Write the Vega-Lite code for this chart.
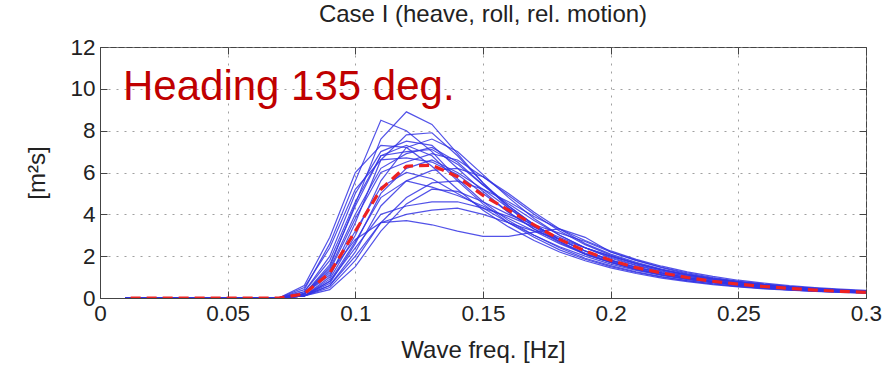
{
  "$schema": "https://vega.github.io/schema/vega-lite/v6.json",
  "width": 766,
  "height": 251,
  "autosize": "none",
  "padding": {"left": 100, "top": 47, "right": 20, "bottom": 68},
  "background": "white",
  "title": {"text": "Case I (heave, roll, rel. motion)", "font": "Liberation Sans", "fontSize": 24, "fontWeight": "normal", "color": "#222", "offset": 9, "anchor": "middle"},
  "config": {
    "view": {"stroke": "#444", "strokeWidth": 1},
    "axis": {"labelFont": "Liberation Sans", "labelFontSize": 22.5, "labelColor": "#222", "labelFlush": false, "labelOverlap": false, "titleFont": "Liberation Sans", "titleFontSize": 24, "titleFontWeight": "normal", "titleColor": "#222", "domainColor": "#444", "tickColor": "#444", "gridColor": "#888", "gridDash": [2, 6], "gridOpacity": 0.8}
  },
  "datasets": {
    "runs": [
      {"s":1,"f":0.01,"v":0},{"s":1,"f":0.07,"v":0},{"s":1,"f":0.08,"v":0.2},{"s":1,"f":0.09,"v":1.5},{"s":1,"f":0.10,"v":4.5},{"s":1,"f":0.11,"v":7.6},{"s":1,"f":0.12,"v":8.9},{"s":1,"f":0.13,"v":8.3},{"s":1,"f":0.14,"v":6.9},{"s":1,"f":0.15,"v":5.5},{"s":1,"f":0.16,"v":4.3},{"s":1,"f":0.17,"v":3.4},{"s":1,"f":0.18,"v":2.7},{"s":1,"f":0.19,"v":2.1},{"s":1,"f":0.20,"v":1.7},{"s":1,"f":0.21,"v":1.35},{"s":1,"f":0.22,"v":1.1},{"s":1,"f":0.23,"v":0.9},{"s":1,"f":0.24,"v":0.74},{"s":1,"f":0.25,"v":0.61},{"s":1,"f":0.26,"v":0.5},{"s":1,"f":0.27,"v":0.42},{"s":1,"f":0.28,"v":0.35},{"s":1,"f":0.29,"v":0.3},{"s":1,"f":0.30,"v":0.26},
      {"s":2,"f":0.01,"v":0},{"s":2,"f":0.07,"v":0},{"s":2,"f":0.08,"v":0.4},{"s":2,"f":0.09,"v":2.6},{"s":2,"f":0.10,"v":5.6},{"s":2,"f":0.11,"v":8.5},{"s":2,"f":0.12,"v":8.0},{"s":2,"f":0.13,"v":7.0},{"s":2,"f":0.14,"v":5.7},{"s":2,"f":0.15,"v":4.6},{"s":2,"f":0.16,"v":3.7},{"s":2,"f":0.17,"v":3.0},{"s":2,"f":0.18,"v":2.4},{"s":2,"f":0.19,"v":1.9},{"s":2,"f":0.20,"v":1.55},{"s":2,"f":0.21,"v":1.25},{"s":2,"f":0.22,"v":1.02},{"s":2,"f":0.23,"v":0.83},{"s":2,"f":0.24,"v":0.68},{"s":2,"f":0.25,"v":0.56},{"s":2,"f":0.26,"v":0.47},{"s":2,"f":0.27,"v":0.39},{"s":2,"f":0.28,"v":0.33},{"s":2,"f":0.29,"v":0.28},{"s":2,"f":0.30,"v":0.24},
      {"s":3,"f":0.01,"v":0},{"s":3,"f":0.07,"v":0},{"s":3,"f":0.08,"v":0.1},{"s":3,"f":0.09,"v":1.0},{"s":3,"f":0.10,"v":3.6},{"s":3,"f":0.11,"v":6.6},{"s":3,"f":0.12,"v":7.8},{"s":3,"f":0.13,"v":7.9},{"s":3,"f":0.14,"v":6.8},{"s":3,"f":0.15,"v":5.5},{"s":3,"f":0.16,"v":4.4},{"s":3,"f":0.17,"v":3.5},{"s":3,"f":0.18,"v":2.8},{"s":3,"f":0.19,"v":2.25},{"s":3,"f":0.20,"v":1.8},{"s":3,"f":0.21,"v":1.46},{"s":3,"f":0.22,"v":1.2},{"s":3,"f":0.23,"v":0.98},{"s":3,"f":0.24,"v":0.8},{"s":3,"f":0.25,"v":0.66},{"s":3,"f":0.26,"v":0.55},{"s":3,"f":0.27,"v":0.46},{"s":3,"f":0.28,"v":0.39},{"s":3,"f":0.29,"v":0.33},{"s":3,"f":0.30,"v":0.28},
      {"s":4,"f":0.01,"v":0},{"s":4,"f":0.07,"v":0},{"s":4,"f":0.08,"v":0.3},{"s":4,"f":0.09,"v":2.0},{"s":4,"f":0.10,"v":5.0},{"s":4,"f":0.11,"v":7.0},{"s":4,"f":0.12,"v":7.5},{"s":4,"f":0.13,"v":7.3},{"s":4,"f":0.14,"v":6.2},{"s":4,"f":0.15,"v":5.1},{"s":4,"f":0.16,"v":4.1},{"s":4,"f":0.17,"v":3.3},{"s":4,"f":0.18,"v":2.65},{"s":4,"f":0.19,"v":2.1},{"s":4,"f":0.20,"v":1.7},{"s":4,"f":0.21,"v":1.38},{"s":4,"f":0.22,"v":1.12},{"s":4,"f":0.23,"v":0.92},{"s":4,"f":0.24,"v":0.75},{"s":4,"f":0.25,"v":0.62},{"s":4,"f":0.26,"v":0.52},{"s":4,"f":0.27,"v":0.43},{"s":4,"f":0.28,"v":0.36},{"s":4,"f":0.29,"v":0.31},{"s":4,"f":0.30,"v":0.27},
      {"s":5,"f":0.01,"v":0},{"s":5,"f":0.07,"v":0},{"s":5,"f":0.08,"v":0.2},{"s":5,"f":0.09,"v":1.6},{"s":5,"f":0.10,"v":4.4},{"s":5,"f":0.11,"v":6.8},{"s":5,"f":0.12,"v":7.0},{"s":5,"f":0.13,"v":7.1},{"s":5,"f":0.14,"v":6.4},{"s":5,"f":0.15,"v":5.4},{"s":5,"f":0.16,"v":4.4},{"s":5,"f":0.17,"v":3.5},{"s":5,"f":0.18,"v":2.8},{"s":5,"f":0.19,"v":2.25},{"s":5,"f":0.20,"v":1.8},{"s":5,"f":0.21,"v":1.47},{"s":5,"f":0.22,"v":1.2},{"s":5,"f":0.23,"v":0.98},{"s":5,"f":0.24,"v":0.8},{"s":5,"f":0.25,"v":0.67},{"s":5,"f":0.26,"v":0.56},{"s":5,"f":0.27,"v":0.47},{"s":5,"f":0.28,"v":0.4},{"s":5,"f":0.29,"v":0.34},{"s":5,"f":0.30,"v":0.29},
      {"s":6,"f":0.01,"v":0},{"s":6,"f":0.07,"v":0},{"s":6,"f":0.08,"v":0.5},{"s":6,"f":0.09,"v":2.4},{"s":6,"f":0.10,"v":5.2},{"s":6,"f":0.11,"v":6.6},{"s":6,"f":0.12,"v":6.7},{"s":6,"f":0.13,"v":6.5},{"s":6,"f":0.14,"v":5.9},{"s":6,"f":0.15,"v":5.0},{"s":6,"f":0.16,"v":4.1},{"s":6,"f":0.17,"v":3.3},{"s":6,"f":0.18,"v":2.7},{"s":6,"f":0.19,"v":2.15},{"s":6,"f":0.20,"v":1.75},{"s":6,"f":0.21,"v":1.42},{"s":6,"f":0.22,"v":1.16},{"s":6,"f":0.23,"v":0.95},{"s":6,"f":0.24,"v":0.78},{"s":6,"f":0.25,"v":0.65},{"s":6,"f":0.26,"v":0.54},{"s":6,"f":0.27,"v":0.45},{"s":6,"f":0.28,"v":0.38},{"s":6,"f":0.29,"v":0.32},{"s":6,"f":0.30,"v":0.28},
      {"s":7,"f":0.01,"v":0},{"s":7,"f":0.07,"v":0},{"s":7,"f":0.08,"v":0.1},{"s":7,"f":0.09,"v":0.9},{"s":7,"f":0.10,"v":3.0},{"s":7,"f":0.11,"v":5.6},{"s":7,"f":0.12,"v":7.2},{"s":7,"f":0.13,"v":7.6},{"s":7,"f":0.14,"v":7.0},{"s":7,"f":0.15,"v":5.9},{"s":7,"f":0.16,"v":4.8},{"s":7,"f":0.17,"v":3.8},{"s":7,"f":0.18,"v":3.0},{"s":7,"f":0.19,"v":2.4},{"s":7,"f":0.20,"v":1.9},{"s":7,"f":0.21,"v":1.55},{"s":7,"f":0.22,"v":1.26},{"s":7,"f":0.23,"v":1.03},{"s":7,"f":0.24,"v":0.85},{"s":7,"f":0.25,"v":0.7},{"s":7,"f":0.26,"v":0.58},{"s":7,"f":0.27,"v":0.49},{"s":7,"f":0.28,"v":0.41},{"s":7,"f":0.29,"v":0.35},{"s":7,"f":0.30,"v":0.3},
      {"s":8,"f":0.01,"v":0},{"s":8,"f":0.07,"v":0},{"s":8,"f":0.08,"v":0.2},{"s":8,"f":0.09,"v":1.3},{"s":8,"f":0.10,"v":3.8},{"s":8,"f":0.11,"v":6.0},{"s":8,"f":0.12,"v":6.5},{"s":8,"f":0.13,"v":6.9},{"s":8,"f":0.14,"v":6.6},{"s":8,"f":0.15,"v":5.8},{"s":8,"f":0.16,"v":4.9},{"s":8,"f":0.17,"v":4.0},{"s":8,"f":0.18,"v":3.2},{"s":8,"f":0.19,"v":2.55},{"s":8,"f":0.20,"v":2.05},{"s":8,"f":0.21,"v":1.66},{"s":8,"f":0.22,"v":1.35},{"s":8,"f":0.23,"v":1.1},{"s":8,"f":0.24,"v":0.9},{"s":8,"f":0.25,"v":0.75},{"s":8,"f":0.26,"v":0.62},{"s":8,"f":0.27,"v":0.52},{"s":8,"f":0.28,"v":0.44},{"s":8,"f":0.29,"v":0.37},{"s":8,"f":0.30,"v":0.32},
      {"s":9,"f":0.01,"v":0},{"s":9,"f":0.07,"v":0},{"s":9,"f":0.08,"v":0.1},{"s":9,"f":0.09,"v":0.7},{"s":9,"f":0.10,"v":2.6},{"s":9,"f":0.11,"v":5.0},{"s":9,"f":0.12,"v":6.2},{"s":9,"f":0.13,"v":6.6},{"s":9,"f":0.14,"v":6.0},{"s":9,"f":0.15,"v":5.2},{"s":9,"f":0.16,"v":4.3},{"s":9,"f":0.17,"v":3.5},{"s":9,"f":0.18,"v":2.8},{"s":9,"f":0.19,"v":2.25},{"s":9,"f":0.20,"v":1.82},{"s":9,"f":0.21,"v":1.48},{"s":9,"f":0.22,"v":1.2},{"s":9,"f":0.23,"v":0.98},{"s":9,"f":0.24,"v":0.8},{"s":9,"f":0.25,"v":0.66},{"s":9,"f":0.26,"v":0.55},{"s":9,"f":0.27,"v":0.46},{"s":9,"f":0.28,"v":0.39},{"s":9,"f":0.29,"v":0.33},{"s":9,"f":0.30,"v":0.28},
      {"s":10,"f":0.01,"v":0},{"s":10,"f":0.07,"v":0},{"s":10,"f":0.08,"v":0.3},{"s":10,"f":0.09,"v":1.8},{"s":10,"f":0.10,"v":4.6},{"s":10,"f":0.11,"v":6.8},{"s":10,"f":0.12,"v":7.3},{"s":10,"f":0.13,"v":6.8},{"s":10,"f":0.14,"v":5.6},{"s":10,"f":0.15,"v":4.5},{"s":10,"f":0.16,"v":3.6},{"s":10,"f":0.17,"v":2.9},{"s":10,"f":0.18,"v":2.3},{"s":10,"f":0.19,"v":1.85},{"s":10,"f":0.20,"v":1.5},{"s":10,"f":0.21,"v":1.22},{"s":10,"f":0.22,"v":1.0},{"s":10,"f":0.23,"v":0.82},{"s":10,"f":0.24,"v":0.67},{"s":10,"f":0.25,"v":0.55},{"s":10,"f":0.26,"v":0.46},{"s":10,"f":0.27,"v":0.39},{"s":10,"f":0.28,"v":0.33},{"s":10,"f":0.29,"v":0.28},{"s":10,"f":0.30,"v":0.24},
      {"s":11,"f":0.01,"v":0},{"s":11,"f":0.07,"v":0},{"s":11,"f":0.08,"v":0.1},{"s":11,"f":0.09,"v":0.6},{"s":11,"f":0.10,"v":2.2},{"s":11,"f":0.11,"v":4.4},{"s":11,"f":0.12,"v":5.6},{"s":11,"f":0.13,"v":6.1},{"s":11,"f":0.14,"v":6.2},{"s":11,"f":0.15,"v":5.8},{"s":11,"f":0.16,"v":5.0},{"s":11,"f":0.17,"v":4.1},{"s":11,"f":0.18,"v":3.3},{"s":11,"f":0.19,"v":2.6},{"s":11,"f":0.20,"v":2.1},{"s":11,"f":0.21,"v":1.7},{"s":11,"f":0.22,"v":1.38},{"s":11,"f":0.23,"v":1.13},{"s":11,"f":0.24,"v":0.93},{"s":11,"f":0.25,"v":0.77},{"s":11,"f":0.26,"v":0.64},{"s":11,"f":0.27,"v":0.53},{"s":11,"f":0.28,"v":0.45},{"s":11,"f":0.29,"v":0.38},{"s":11,"f":0.30,"v":0.33},
      {"s":12,"f":0.01,"v":0},{"s":12,"f":0.07,"v":0},{"s":12,"f":0.08,"v":0.1},{"s":12,"f":0.09,"v":0.5},{"s":12,"f":0.10,"v":1.8},{"s":12,"f":0.11,"v":3.6},{"s":12,"f":0.12,"v":4.8},{"s":12,"f":0.13,"v":5.5},{"s":12,"f":0.14,"v":5.6},{"s":12,"f":0.15,"v":5.2},{"s":12,"f":0.16,"v":4.6},{"s":12,"f":0.17,"v":3.9},{"s":12,"f":0.18,"v":3.3},{"s":12,"f":0.19,"v":2.75},{"s":12,"f":0.20,"v":2.25},{"s":12,"f":0.21,"v":1.85},{"s":12,"f":0.22,"v":1.52},{"s":12,"f":0.23,"v":1.25},{"s":12,"f":0.24,"v":1.03},{"s":12,"f":0.25,"v":0.85},{"s":12,"f":0.26,"v":0.71},{"s":12,"f":0.27,"v":0.59},{"s":12,"f":0.28,"v":0.5},{"s":12,"f":0.29,"v":0.42},{"s":12,"f":0.30,"v":0.36},
      {"s":13,"f":0.01,"v":0},{"s":13,"f":0.07,"v":0},{"s":13,"f":0.08,"v":0.2},{"s":13,"f":0.09,"v":1.2},{"s":13,"f":0.10,"v":2.8},{"s":13,"f":0.11,"v":3.6},{"s":13,"f":0.12,"v":3.7},{"s":13,"f":0.13,"v":3.5},{"s":13,"f":0.14,"v":3.2},{"s":13,"f":0.15,"v":2.95},{"s":13,"f":0.16,"v":2.95},{"s":13,"f":0.17,"v":3.15},{"s":13,"f":0.18,"v":3.3},{"s":13,"f":0.19,"v":2.9},{"s":13,"f":0.20,"v":2.2},{"s":13,"f":0.21,"v":1.8},{"s":13,"f":0.22,"v":1.45},{"s":13,"f":0.23,"v":1.15},{"s":13,"f":0.24,"v":0.95},{"s":13,"f":0.25,"v":0.8},{"s":13,"f":0.26,"v":0.66},{"s":13,"f":0.27,"v":0.55},{"s":13,"f":0.28,"v":0.46},{"s":13,"f":0.29,"v":0.39},{"s":13,"f":0.30,"v":0.33},
      {"s":14,"f":0.01,"v":0},{"s":14,"f":0.07,"v":0},{"s":14,"f":0.08,"v":0.1},{"s":14,"f":0.09,"v":0.6},{"s":14,"f":0.10,"v":2.0},{"s":14,"f":0.11,"v":3.6},{"s":14,"f":0.12,"v":4.0},{"s":14,"f":0.13,"v":4.2},{"s":14,"f":0.14,"v":4.3},{"s":14,"f":0.15,"v":4.0},{"s":14,"f":0.16,"v":3.6},{"s":14,"f":0.17,"v":3.2},{"s":14,"f":0.18,"v":2.8},{"s":14,"f":0.19,"v":2.4},{"s":14,"f":0.20,"v":2.0},{"s":14,"f":0.21,"v":1.65},{"s":14,"f":0.22,"v":1.35},{"s":14,"f":0.23,"v":1.1},{"s":14,"f":0.24,"v":0.9},{"s":14,"f":0.25,"v":0.75},{"s":14,"f":0.26,"v":0.62},{"s":14,"f":0.27,"v":0.52},{"s":14,"f":0.28,"v":0.44},{"s":14,"f":0.29,"v":0.37},{"s":14,"f":0.30,"v":0.32},
      {"s":15,"f":0.01,"v":0},{"s":15,"f":0.07,"v":0},{"s":15,"f":0.08,"v":0.1},{"s":15,"f":0.09,"v":0.8},{"s":15,"f":0.10,"v":2.4},{"s":15,"f":0.11,"v":4.0},{"s":15,"f":0.12,"v":4.4},{"s":15,"f":0.13,"v":4.6},{"s":15,"f":0.14,"v":4.6},{"s":15,"f":0.15,"v":4.3},{"s":15,"f":0.16,"v":3.9},{"s":15,"f":0.17,"v":3.4},{"s":15,"f":0.18,"v":2.9},{"s":15,"f":0.19,"v":2.4},{"s":15,"f":0.20,"v":2.0},{"s":15,"f":0.21,"v":1.63},{"s":15,"f":0.22,"v":1.33},{"s":15,"f":0.23,"v":1.09},{"s":15,"f":0.24,"v":0.9},{"s":15,"f":0.25,"v":0.74},{"s":15,"f":0.26,"v":0.62},{"s":15,"f":0.27,"v":0.52},{"s":15,"f":0.28,"v":0.44},{"s":15,"f":0.29,"v":0.37},{"s":15,"f":0.30,"v":0.32},
      {"s":16,"f":0.01,"v":0},{"s":16,"f":0.07,"v":0},{"s":16,"f":0.08,"v":0.2},{"s":16,"f":0.09,"v":1.1},{"s":16,"f":0.10,"v":3.2},{"s":16,"f":0.11,"v":5.3},{"s":16,"f":0.12,"v":6.0},{"s":16,"f":0.13,"v":5.7},{"s":16,"f":0.14,"v":5.0},{"s":16,"f":0.15,"v":4.3},{"s":16,"f":0.16,"v":3.6},{"s":16,"f":0.17,"v":3.0},{"s":16,"f":0.18,"v":2.45},{"s":16,"f":0.19,"v":2.0},{"s":16,"f":0.20,"v":1.62},{"s":16,"f":0.21,"v":1.32},{"s":16,"f":0.22,"v":1.08},{"s":16,"f":0.23,"v":0.88},{"s":16,"f":0.24,"v":0.72},{"s":16,"f":0.25,"v":0.6},{"s":16,"f":0.26,"v":0.5},{"s":16,"f":0.27,"v":0.42},{"s":16,"f":0.28,"v":0.35},{"s":16,"f":0.29,"v":0.3},{"s":16,"f":0.30,"v":0.26},
      {"s":17,"f":0.01,"v":0},{"s":17,"f":0.07,"v":0},{"s":17,"f":0.08,"v":0.1},{"s":17,"f":0.09,"v":0.8},{"s":17,"f":0.10,"v":2.7},{"s":17,"f":0.11,"v":4.8},{"s":17,"f":0.12,"v":5.6},{"s":17,"f":0.13,"v":5.3},{"s":17,"f":0.14,"v":4.9},{"s":17,"f":0.15,"v":4.4},{"s":17,"f":0.16,"v":3.8},{"s":17,"f":0.17,"v":3.2},{"s":17,"f":0.18,"v":2.6},{"s":17,"f":0.19,"v":2.1},{"s":17,"f":0.20,"v":1.7},{"s":17,"f":0.21,"v":1.38},{"s":17,"f":0.22,"v":1.12},{"s":17,"f":0.23,"v":0.92},{"s":17,"f":0.24,"v":0.76},{"s":17,"f":0.25,"v":0.63},{"s":17,"f":0.26,"v":0.52},{"s":17,"f":0.27,"v":0.44},{"s":17,"f":0.28,"v":0.37},{"s":17,"f":0.29,"v":0.31},{"s":17,"f":0.30,"v":0.27},
      {"s":18,"f":0.01,"v":0},{"s":18,"f":0.07,"v":0},{"s":18,"f":0.08,"v":0.6},{"s":18,"f":0.09,"v":2.9},{"s":18,"f":0.10,"v":6.0},{"s":18,"f":0.11,"v":7.3},{"s":18,"f":0.12,"v":7.2},{"s":18,"f":0.13,"v":6.3},{"s":18,"f":0.14,"v":5.2},{"s":18,"f":0.15,"v":4.2},{"s":18,"f":0.16,"v":3.4},{"s":18,"f":0.17,"v":2.75},{"s":18,"f":0.18,"v":2.2},{"s":18,"f":0.19,"v":1.78},{"s":18,"f":0.20,"v":1.44},{"s":18,"f":0.21,"v":1.17},{"s":18,"f":0.22,"v":0.95},{"s":18,"f":0.23,"v":0.78},{"s":18,"f":0.24,"v":0.64},{"s":18,"f":0.25,"v":0.53},{"s":18,"f":0.26,"v":0.44},{"s":18,"f":0.27,"v":0.37},{"s":18,"f":0.28,"v":0.31},{"s":18,"f":0.29,"v":0.27},{"s":18,"f":0.30,"v":0.23},
      {"s":19,"f":0.01,"v":0},{"s":19,"f":0.07,"v":0},{"s":19,"f":0.08,"v":0.1},{"s":19,"f":0.09,"v":0.4},{"s":19,"f":0.10,"v":1.5},{"s":19,"f":0.11,"v":3.2},{"s":19,"f":0.12,"v":4.5},{"s":19,"f":0.13,"v":5.2},{"s":19,"f":0.14,"v":5.1},{"s":19,"f":0.15,"v":4.6},{"s":19,"f":0.16,"v":4.0},{"s":19,"f":0.17,"v":3.5},{"s":19,"f":0.18,"v":3.1},{"s":19,"f":0.19,"v":2.7},{"s":19,"f":0.20,"v":2.2},{"s":19,"f":0.21,"v":1.8},{"s":19,"f":0.22,"v":1.47},{"s":19,"f":0.23,"v":1.2},{"s":19,"f":0.24,"v":0.98},{"s":19,"f":0.25,"v":0.8},{"s":19,"f":0.26,"v":0.66},{"s":19,"f":0.27,"v":0.55},{"s":19,"f":0.28,"v":0.46},{"s":19,"f":0.29,"v":0.39},{"s":19,"f":0.30,"v":0.33},
      {"s":20,"f":0.01,"v":0},{"s":20,"f":0.07,"v":0},{"s":20,"f":0.08,"v":0.2},{"s":20,"f":0.09,"v":1.4},{"s":20,"f":0.10,"v":4.0},{"s":20,"f":0.11,"v":6.2},{"s":20,"f":0.12,"v":6.9},{"s":20,"f":0.13,"v":7.2},{"s":20,"f":0.14,"v":6.5},{"s":20,"f":0.15,"v":5.4},{"s":20,"f":0.16,"v":4.5},{"s":20,"f":0.17,"v":3.7},{"s":20,"f":0.18,"v":3.0},{"s":20,"f":0.19,"v":2.4},{"s":20,"f":0.20,"v":1.95},{"s":20,"f":0.21,"v":1.58},{"s":20,"f":0.22,"v":1.29},{"s":20,"f":0.23,"v":1.05},{"s":20,"f":0.24,"v":0.86},{"s":20,"f":0.25,"v":0.71},{"s":20,"f":0.26,"v":0.59},{"s":20,"f":0.27,"v":0.49},{"s":20,"f":0.28,"v":0.41},{"s":20,"f":0.29,"v":0.35},{"s":20,"f":0.30,"v":0.3}
    ],
    "mean": [
      {"f":0.012,"v":0},{"f":0.07,"v":0},{"f":0.08,"v":0.2},{"f":0.09,"v":1.2},{"f":0.10,"v":3.2},{"f":0.11,"v":5.2},{"f":0.12,"v":6.3},{"f":0.13,"v":6.35},{"f":0.14,"v":5.8},{"f":0.15,"v":4.9},{"f":0.16,"v":4.2},{"f":0.17,"v":3.5},{"f":0.18,"v":2.8},{"f":0.19,"v":2.25},{"f":0.20,"v":1.8},{"f":0.21,"v":1.45},{"f":0.22,"v":1.2},{"f":0.23,"v":0.98},{"f":0.24,"v":0.8},{"f":0.25,"v":0.66},{"f":0.26,"v":0.55},{"f":0.27,"v":0.46},{"f":0.28,"v":0.38},{"f":0.29,"v":0.32},{"f":0.30,"v":0.27}
    ],
    "label": [
      {"f":0.009,"v":9.47,"t":"Heading 135 deg."}
    ]
  },
  "layer": [
    {
      "data": {"name": "runs"},
      "mark": {"type": "line", "color": "#3434e4", "strokeWidth": 1.2, "opacity": 0.85, "clip": true},
      "encoding": {
        "x": {"field": "f", "type": "quantitative", "scale": {"domain": [0, 0.3], "nice": false, "zero": false}, "axis": {"title": "Wave freq. [Hz]", "orient": "bottom", "values": [0, 0.05, 0.1, 0.15, 0.2, 0.25, 0.3], "format": "~g", "tickSize": -7, "labelPadding": 11, "titlePadding": 14, "grid": true}},
        "y": {"field": "v", "type": "quantitative", "scale": {"domain": [0, 12], "nice": false}, "axis": {"title": "[m²s]", "orient": "left", "values": [0, 2, 4, 6, 8, 10, 12], "tickSize": -7, "labelPadding": 12, "titlePadding": 20, "grid": true}},
        "detail": {"field": "s", "type": "nominal"}
      }
    },
    {
      "data": {"name": "mean"},
      "mark": {"type": "line", "color": "#ee2222", "strokeWidth": 3.2, "strokeDash": [10, 6], "clip": true},
      "encoding": {
        "x": {"field": "f", "type": "quantitative", "axis": null},
        "y": {"field": "v", "type": "quantitative", "axis": null}
      }
    },
    {
      "data": {"name": "label"},
      "mark": {"type": "text", "color": "#c00000", "font": "Liberation Sans", "fontSize": 42, "align": "left", "baseline": "alphabetic"},
      "encoding": {
        "x": {"field": "f", "type": "quantitative", "axis": {"orient": "top", "title": null, "labels": false, "domain": false, "grid": false, "values": [0, 0.05, 0.1, 0.15, 0.2, 0.25, 0.3], "tickSize": -7}},
        "y": {"field": "v", "type": "quantitative", "axis": {"orient": "right", "title": null, "labels": false, "domain": false, "grid": false, "values": [0, 2, 4, 6, 8, 10, 12], "tickSize": -7}},
        "text": {"field": "t"}
      }
    }
  ],
  "resolve": {"axis": {"x": "independent", "y": "independent"}}
}
